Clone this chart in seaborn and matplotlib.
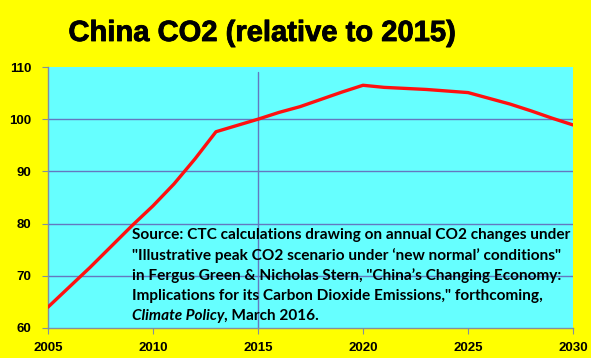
import numpy as np
import pandas as pd
import matplotlib
matplotlib.use("Agg")
import matplotlib.pyplot as plt
import matplotlib.patheffects as pe
import seaborn as sns

# data (index, 2015 = 100)
years = [2005, 2006, 2007, 2008, 2009, 2010, 2011, 2012, 2013, 2014, 2015,
         2016, 2017, 2018, 2019, 2020, 2021, 2022, 2023, 2024, 2025,
         2026, 2027, 2028, 2029, 2030]
co2 = [64.0, 67.8, 71.6, 75.6, 79.6, 83.4, 87.6, 92.4, 97.6, 98.8, 100.0,
       101.3, 102.4, 103.8, 105.2, 106.5, 106.1, 105.9, 105.7, 105.4, 105.1,
       104.0, 102.9, 101.6, 100.2, 98.9]
x_ticks = [2005, 2010, 2015, 2020, 2025, 2030]
y_ticks = [60, 70, 80, 90, 100, 110]
source_lines = [
    "Source: CTC calculations drawing on annual CO2 changes under",
    "\"Illustrative peak CO2 scenario under \u2018new normal\u2019 conditions\"",
    "in Fergus Green & Nicholas Stern, \"China\u2019s Changing Economy:",
    "Implications for its Carbon Dioxide Emissions,\" forthcoming,",
]
source_last = ("Climate Policy", ", March 2016.")

df = pd.DataFrame({"year": years, "co2": co2})

sns.set_style("white")
plt.rcParams["font.family"] = ["Liberation Sans", "DejaVu Sans"]
plt.rcParams["text.color"] = "black"
plt.rcParams["xtick.color"] = "black"
plt.rcParams["ytick.color"] = "black"

fig = plt.figure(figsize=(5.91, 3.58), dpi=100, facecolor="#FFFF00")
ax = fig.add_axes([48 / 591, 1 - 328 / 358, (573 - 48) / 591, (328 - 67) / 358])
ax.set_facecolor("#66FFFF")

grid_c = "#6478C0"
for v in [70, 80, 90, 100]:
    ax.axhline(v, color=grid_c, lw=1, zorder=1)
ax.axvline(2015, ymax=0.98, color=grid_c, lw=1, zorder=1)

sns.lineplot(data=df, x="year", y="co2", color="#FF1010", lw=2.4, ax=ax, zorder=3)

ax.set_xlim(2005, 2030)
ax.set_ylim(60, 110)
ax.set_xticks(x_ticks)
ax.set_yticks(y_ticks)
ax.set_xlabel("")
ax.set_ylabel("")
for lab in ax.get_xticklabels() + ax.get_yticklabels():
    lab.set_fontweight("bold")
    lab.set_fontsize(9.5)
    lab.set_color("black")
ax.tick_params(axis="both", length=4, color="#8090A0", direction="out")
ax.tick_params(axis="y", pad=8)
ax.tick_params(axis="x", pad=6)
ax.tick_params(bottom=True, left=True)
for side in ["top", "right"]:
    ax.spines[side].set_visible(False)
for side in ["left", "bottom"]:
    ax.spines[side].set_color("#8090A0")
    ax.spines[side].set_linewidth(1)

fig.text(262 / 591, 1 - 33 / 358, "China CO2 (relative to 2015)", ha="center", va="center",
         fontsize=21, fontweight="heavy", color="black",
         path_effects=[pe.withStroke(linewidth=0.6, foreground="black")])

tfont = ["Lato", "DejaVu Sans"]
fs = 11.1
x0 = 132 / 591
for i, line in enumerate(source_lines):
    fig.text(x0, 1 - (235 + i * 20.3) / 358, line, ha="left", va="center",
             fontsize=fs, fontweight="bold", family=tfont, color="black")
y_last = 1 - (235 + 4 * 20.3) / 358
t = fig.text(x0, y_last, source_last[0], ha="left", va="center",
             fontsize=fs, fontweight="bold", style="italic", family=tfont, color="black")
fig.canvas.draw()
bb = t.get_window_extent()
fig.text(bb.x1 / fig.bbox.width, y_last, source_last[1], ha="left", va="center",
         fontsize=fs, fontweight="bold", family=tfont, color="black")

fig.savefig("out.png", dpi=100, facecolor=fig.get_facecolor())
